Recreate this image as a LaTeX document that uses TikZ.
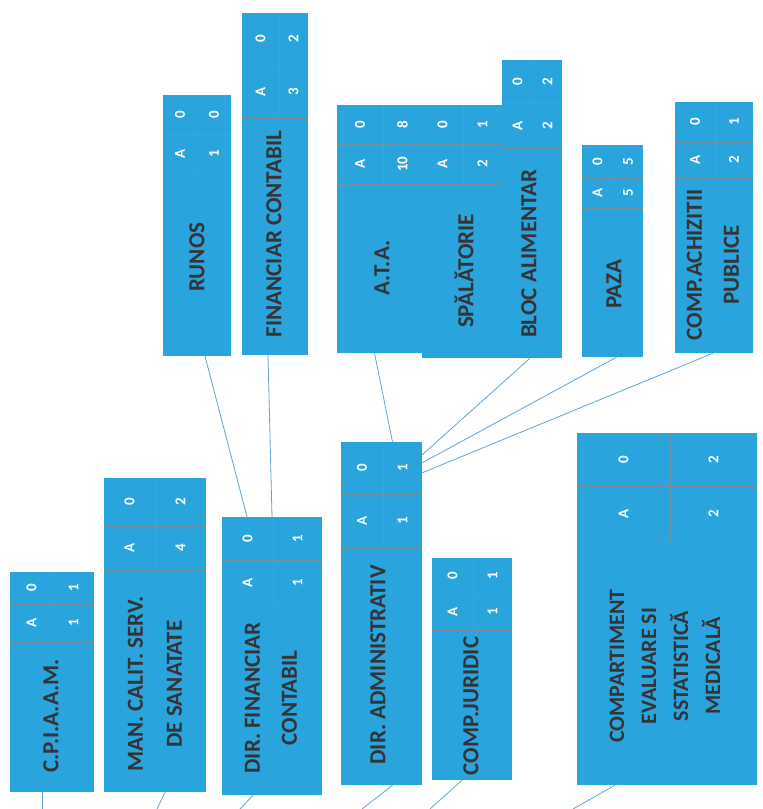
\documentclass[tikz,border=0pt]{standalone}
\usepackage{fontspec}
\setmainfont{Carlito}
\usetikzlibrary{fit}
\definecolor{boxblue}{RGB}{41,164,220}
\definecolor{gridcol}{RGB}{118,146,160}
\definecolor{titlecol}{RGB}{52,52,54}
\definecolor{linkcol}{RGB}{95,165,212}
\tikzset{
  obox/.style={rectangle, fill=boxblue, draw=none, inner sep=0pt},
  gridln/.style={draw=gridcol, line width=0.9pt},
  cellt/.style={rotate=90, text=white, font=\bfseries\fontsize{15}{15}\selectfont, inner sep=0pt},
  ttl/.style={rotate=90, text=titlecol, align=center, inner sep=0pt, font=\bfseries\fontsize{23}{39}\selectfont},
  link/.style={draw=linkcol, line width=0.8pt}
}
% #1 name, #2 x1, #3 y1 (top), #4 x2, #5 grid bottom, #6 row divider, #7 column divider, #8 top-right, #9 bottom-right
\newcommand\otab[9]{%
  \draw[gridln] (#2,#5) -- (#4,#5) (#2,#6) -- (#4,#6) (#7,#3) -- (#7,#5);
  \node[cellt] (#1-tl) at ({(#2+#7)/2},{(#3+#6)/2}) {0};
  \node[cellt] (#1-bl) at ({(#2+#7)/2},{(#6+#5)/2}) {A};
  \node[cellt] (#1-tr) at ({(#7+#4)/2},{(#3+#6)/2}) {#8};
  \node[cellt] (#1-br) at ({(#7+#4)/2},{(#6+#5)/2}) {#9};
}
\begin{document}
\begin{tikzpicture}[x=1pt,y=-1pt]
\fill[white] (0,0) rectangle (763,809);
\useasboundingbox (0,0) rectangle (763,809);

% ---- lower row ----
\node[obox, fit={(10,572) (94,792)}] (cpiaam) {};
\otab{cpiaam}{10}{572}{94}{642}{604}{53}{1}{1}
\node[ttl] (cpiaam-t) at (51,716) {C.P.I.A.A.M.};

\node[obox, fit={(104,478) (206,792)}] (mancalit) {};
\otab{mancalit}{104}{478}{206}{570}{526}{155}{2}{4}
\node[ttl] (mancalit-t) at (155,684) {MAN. CALIT. SERV.\\DE SANATATE};

\node[obox, fit={(222,517) (322,795)}] (dirfin) {};
\otab{dirfin}{222}{517}{322}{605}{560}{273}{1}{1}
\node[ttl, font=\bfseries\fontsize{23}{37}\selectfont] (dirfin-t) at (271,698) {DIR. FINANCIAR\\CONTABIL};

\node[obox, fit={(341,442) (422,785)}] (diradmin) {};
\otab{diradmin}{341}{442}{422}{548}{494}{383}{1}{1}
\node[ttl] (diradmin-t) at (378,665) {DIR. ADMINISTRATIV};

\node[obox, fit={(432,558) (512,780)}] (compjur) {};
\otab{compjur}{432}{558}{512}{630}{593}{473}{1}{1}
\node[ttl] (compjur-t) at (471,706) {COMP.JURIDIC};

\node[obox, fit={(577,433) (757,785)}] (compart) {};
\otab{compart}{577}{433}{757}{541}{486}{670}{2}{2}
\node[ttl, font=\bfseries\fontsize{22}{32}\selectfont] (compart-t) at (665,666) {COMPARTIMENT\\EVALUARE SI\\SSTATISTICĂ\\MEDICALĂ};

% ---- upper row ----
\node[obox, fit={(163,95) (231,356)}] (runos) {};
\otab{runos}{163}{95}{231}{173}{135}{197}{0}{1}
\node[ttl] (runos-t) at (197,257) {RUNOS};

\node[obox, fit={(242,13) (308,355)}] (fincont) {};
\otab{fincont}{242}{13}{308}{118}{65}{279}{2}{3}
\node[ttl] (fincont-t) at (274,234) {FINANCIAR CONTABIL};

\node[obox, fit={(337,105) (422,353)}] (ata) {};
\node[obox, fit={(422,105) (502,358)}] (spal) {};
\node[obox, fit={(502,60) (562,358)}] (bloc) {};
\otab{ata}{337}{105}{422}{184}{144}{383}{8}{10}
\otab{spal}{422}{105}{502}{184}{144}{463}{1}{2}
\otab{bloc}{502}{60}{562}{148}{103}{533}{2}{2}
\node[ttl] (ata-t) at (382,268) {A.T.A.};
\node[ttl] (spal-t) at (464,271) {SPĂLĂTORIE};
\node[ttl] (bloc-t) at (529,254) {BLOC ALIMENTAR};

\node[obox, fit={(582,145) (643,357)}] (paza) {};
\otab{paza}{582}{145}{643}{208}{178}{613}{5}{5}
\node[ttl] (paza-t) at (614,284) {PAZA};

\node[obox, fit={(675,102) (753,353)}] (compach) {};
\otab{compach}{675}{102}{753}{178}{142}{715}{1}{2}
\node[ttl, font=\bfseries\fontsize{23}{37}\selectfont] (compach-t) at (713,265) {COMP.ACHIZITII\\PUBLICE};

% ---- connectors between boxes ----
\draw[link] ([xshift=8pt]runos.south) -- ([xshift=-25pt]dirfin.north);
\draw[link] ([xshift=-7pt]fincont.south) -- (dirfin.north);
\draw[link] ([xshift=-5pt]ata.south) -- ([xshift=11pt]diradmin.north);
\draw[link] ([xshift=-2pt]bloc.south) -- ([yshift=-13pt]diradmin.north east);
\draw[link] ([xshift=4pt]paza.south) -- ([yshift=-21pt]diradmin.north east);
\draw[link] ([xshift=-1pt]compach.south) -- ([yshift=-31pt]diradmin.north east);

% ---- connectors leaving the picture ----
\coordinate (e1) at (42,809);
\coordinate (e2) at (157,809);
\coordinate (e3) at (240,809);
\coordinate (e4) at (362,809);
\coordinate (e5) at (430,809);
\coordinate (e6) at (573,809);
\draw[link] ([xshift=-10pt]cpiaam.south) -- (e1);
\draw[link] ([xshift=10pt]mancalit.south) -- (e2);
\draw[link] ([xshift=-19pt]dirfin.south) -- (e3);
\draw[link] ([xshift=11pt]diradmin.south) -- (e4);
\draw[link] ([xshift=-10pt]compjur.south) -- (e5);
\draw[link] ([xshift=-52pt]compart.south) -- (e6);
\end{tikzpicture}
\end{document}
